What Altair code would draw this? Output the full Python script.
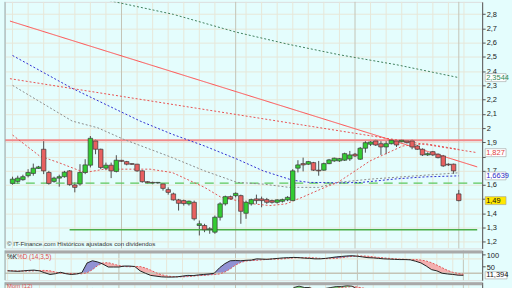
import altair as alt
import pandas as pd

# ---------------- data ----------------
opens = [1.611, 1.625, 1.637, 1.665, 1.681, 1.716, 1.851, 1.688, 1.625, 1.648,
         1.658, 1.699, 1.600, 1.607, 1.688, 1.739, 1.909, 1.851, 1.718, 1.739,
         1.695, 1.773, 1.764, 1.750, 1.746, 1.699, 1.623, 1.618, 1.614, 1.607,
         1.567, 1.537, 1.495, 1.490, 1.467, 1.478, 1.315, 1.315, 1.285, 1.268,
         1.373, 1.467, 1.518, 1.525, 1.525, 1.401, 1.467, 1.502, 1.502, 1.497,
         1.490, 1.478, 1.485, 1.495, 1.490, 1.718, 1.750, 1.746, 1.757, 1.704,
         1.704, 1.750, 1.769, 1.769, 1.774, 1.783, 1.816, 1.781, 1.858, 1.886,
         1.909, 1.890, 1.867, 1.890, 1.909, 1.904, 1.909, 1.909, 1.874, 1.851,
         1.811, 1.834, 1.816, 1.804, 1.746, 1.746, 1.537]
closes = [1.641, 1.648, 1.658, 1.688, 1.718, 1.727, 1.699, 1.611, 1.648, 1.658,
          1.690, 1.602, 1.583, 1.688, 1.741, 1.928, 1.851, 1.723, 1.739, 1.699,
          1.774, 1.766, 1.746, 1.745, 1.699, 1.623, 1.616, 1.614, 1.618, 1.576,
          1.548, 1.495, 1.471, 1.469, 1.486, 1.362, 1.327, 1.285, 1.292, 1.373,
          1.467, 1.518, 1.502, 1.541, 1.415, 1.478, 1.497, 1.490, 1.490, 1.478,
          1.478, 1.495, 1.497, 1.513, 1.699, 1.741, 1.741, 1.764, 1.704, 1.699,
          1.750, 1.776, 1.788, 1.785, 1.820, 1.811, 1.804, 1.858, 1.897, 1.902,
          1.881, 1.867, 1.890, 1.914, 1.881, 1.914, 1.897, 1.867, 1.851, 1.811,
          1.820, 1.811, 1.792, 1.734, 1.741, 1.699, 1.490]
highs = [1.658, 1.665, 1.672, 1.711, 1.750, 1.734, 1.921, 1.699, 1.658, 1.672,
         1.699, 1.704, 1.618, 1.746, 1.781, 1.944, 1.921, 1.855, 1.757, 1.757,
         1.809, 1.776, 1.769, 1.752, 1.748, 1.703, 1.626, 1.623, 1.621, 1.609,
         1.583, 1.546, 1.502, 1.497, 1.490, 1.490, 1.350, 1.327, 1.303, 1.385,
         1.478, 1.525, 1.525, 1.548, 1.532, 1.490, 1.504, 1.532, 1.518, 1.509,
         1.497, 1.500, 1.504, 1.521, 1.711, 1.774, 1.792, 1.769, 1.762, 1.769,
         1.757, 1.783, 1.792, 1.790, 1.827, 1.839, 1.825, 1.867, 1.909, 1.913,
         1.920, 1.909, 1.909, 1.920, 1.921, 1.920, 1.916, 1.921, 1.881, 1.857,
         1.829, 1.839, 1.822, 1.811, 1.752, 1.750, 1.565]
lows = [1.602, 1.607, 1.630, 1.653, 1.665, 1.713, 1.676, 1.602, 1.616, 1.588,
        1.651, 1.595, 1.548, 1.595, 1.676, 1.723, 1.816, 1.711, 1.704, 1.648,
        1.688, 1.762, 1.738, 1.741, 1.692, 1.616, 1.609, 1.605, 1.609, 1.560,
        1.532, 1.490, 1.420, 1.455, 1.455, 1.350, 1.245, 1.268, 1.257, 1.257,
        1.350, 1.455, 1.497, 1.513, 1.327, 1.362, 1.455, 1.467, 1.443, 1.467,
        1.469, 1.469, 1.476, 1.486, 1.490, 1.688, 1.695, 1.741, 1.699, 1.665,
        1.699, 1.746, 1.762, 1.762, 1.769, 1.769, 1.797, 1.776, 1.827, 1.874,
        1.874, 1.811, 1.816, 1.885, 1.867, 1.899, 1.892, 1.851, 1.846, 1.804,
        1.804, 1.804, 1.787, 1.727, 1.734, 1.678, 1.485]
idx = list(range(len(opens)))

# moving averages (index position, value)
ma_long_i = [0, 10, 20, 31, 43, 53, 63, 74, 86]
ma_long_v = [3.04, 2.96, 2.885, 2.799, 2.675, 2.59, 2.515, 2.445, 2.3544]
ma_blue_i = [0, 11.4, 24.6, 30.8, 37, 43.3, 48.3, 53.9, 57.1, 62.7, 67, 74, 79.6, 86]
ma_blue_v = [2.51, 2.281, 2.049, 1.956, 1.874, 1.781, 1.699, 1.634, 1.618, 1.615,
             1.617, 1.643, 1.657, 1.6639]
ma_grey_i = [0, 11.5, 16.4, 21.4, 26.5, 30.8, 37, 43.3, 48.3, 53.3, 59, 62.7, 69, 77.7, 85.8]
ma_grey_v = [2.30, 2.049, 2.002, 1.921, 1.851, 1.792, 1.699, 1.618, 1.606, 1.583,
             1.583, 1.618, 1.641, 1.664, 1.685]
ma_red_i = [0, 5.2, 8.9, 13.9, 17.7, 21.4, 26.5, 30.8, 37, 40.2, 46.4, 49.6, 52.7,
            55.8, 60.2, 62.7, 68.9, 75.2, 79.6, 86]
ma_red_v = [1.951, 1.804, 1.757, 1.687, 1.711, 1.711, 1.711, 1.687, 1.583, 1.513,
            1.467, 1.455, 1.467, 1.513, 1.583, 1.618, 1.769, 1.874, 1.89, 1.85]

# trend lines and levels
trend_i = [-0.5, 89.55]
trend_solid_v = [2.752, 1.727]
trend_dot_v = [2.347, 1.827]
resist_level = [1.915]
support_dash = [1.613]
support_solid = [1.285]
support_from = [11]
support_to = [89.55]

# right-axis value labels
lab_vals = [2.3544, 1.827, 1.6639, 1.49]
lab_text = ["2,3544", "1,827", "1,6639", "1,49"]

# stochastic %K / %D
stoch_k = [30, 29, 28, 30, 32, 33, 30, 22, 15, 18, 24, 18, 15, 17, 22, 63, 72, 67, 58, 46,
           46, 46, 50, 50, 48, 30, 20, 11, 8, 5, 4, 4, 5, 8, 11, 10, 13, 15, 17, 20,
           43, 60, 72, 73, 72, 74, 75, 80, 79, 78, 80, 82, 84, 85, 86, 85, 83, 82, 80, 80,
           82, 85, 88, 90, 92, 93, 91, 88, 85, 84, 82, 80, 79, 78, 77, 77, 76, 70, 63, 50,
           35, 30, 20, 17, 15, 12, 11.394]
stoch_d = [31, 30, 29, 29, 29, 30, 31, 32, 30, 25, 20, 19, 19, 18, 18, 22, 35, 52, 63, 64,
           58, 52, 48, 47, 48, 48, 42, 33, 22, 14, 9, 6, 5, 5, 6, 8, 10, 11, 13, 15,
           17, 25, 38, 54, 65, 71, 73, 74, 76, 78, 79, 79, 80, 82, 84, 85, 85, 85, 84, 82,
           81, 81, 82, 85, 88, 90, 92, 92, 91, 88, 86, 84, 82, 80, 79, 78, 77, 77, 75, 71,
           64, 54, 43, 32, 24, 19, 16]
stoch_levels = [80, 20]
stoch_ticks = [50, 100]
stoch_label = ["11,394"]
stoch_label_v = [11.394]

# momentum (12) and its signal
mom = [-0.05, -0.03, 0.0, 0.02, 0.05, 0.06, 0.0, -0.05, -0.02, 0.0,
       0.03, -0.05, -0.08, 0.0, 0.08, 0.26, 0.28, 0.12, 0.10, 0.08,
       0.22, 0.23, 0.22, 0.26, 0.24, 0.05, -0.02, -0.12, -0.20, -0.16,
       -0.19, -0.22, -0.27, -0.25, -0.25, -0.34, -0.30, -0.33, -0.32, -0.27,
       -0.15, -0.10, -0.10, -0.05, -0.10, -0.03, 0.03, 0.25, 0.26, 0.24,
       0.10, 0.13, 0.0, 0.0, 0.30, 0.33, 0.30, 0.30, 0.22, 0.22,
       0.28, 0.30, 0.32, 0.32, 0.34, 0.33, 0.26, 0.23, 0.23, 0.22,
       0.22, 0.22, 0.23, 0.22, 0.22, 0.21, 0.20, 0.15, 0.10, 0.0,
       0.0, -0.05, -0.08, -0.14, -0.13, -0.18, -0.37]
mom_sig = [-0.04, -0.04, -0.03, -0.01, 0.01, 0.03, 0.04, 0.02, -0.01, -0.02,
           -0.01, -0.01, -0.03, -0.04, -0.02, 0.05, 0.12, 0.17, 0.18, 0.15,
           0.13, 0.17, 0.20, 0.22, 0.23, 0.20, 0.12, 0.04, -0.06, -0.12,
           -0.16, -0.19, -0.22, -0.24, -0.25, -0.28, -0.29, -0.31, -0.32, -0.30,
           -0.25, -0.19, -0.14, -0.10, -0.09, -0.07, -0.04, 0.05, 0.15, 0.22,
           0.20, 0.16, 0.10, 0.06, 0.11, 0.20, 0.27, 0.29, 0.27, 0.25,
           0.25, 0.26, 0.28, 0.30, 0.31, 0.32, 0.31, 0.29, 0.27, 0.25,
           0.24, 0.23, 0.23, 0.23, 0.22, 0.22, 0.21, 0.19, 0.15, 0.10,
           0.05, 0.01, -0.03, -0.07, -0.10, -0.13, -0.20]

# grid positions and tick labels
grid_idx = [0, 3, 6, 9, 12, 15, 18, 21, 24, 27, 30, 33, 36, 39, 43, 45, 48, 51, 54,
            57, 60, 63, 66, 69, 72, 75, 78, 81, 84, 86, 87]
month_idx = [21, 43, 66, 86]
price_ticks = [1.2, 1.3, 1.4, 1.5, 1.6, 1.7, 1.8, 1.9, 2.0, 2.1, 2.2, 2.3, 2.4,
               2.5, 2.6, 2.7, 2.8]

copyright_txt = "© IT-Finance.com  Históricos ajustados con dividendos"

# ---------------- layout / styles ----------------
W, H1, H2, H3 = 480, 248, 30, 10
FONT = "Liberation Sans"
xs = alt.Scale(domain=[-0.5, 89.55], nice=False, zero=False)
ys = alt.Scale(domain=[1.154, 2.887], nice=False, zero=False)
ss = alt.Scale(domain=[-9.1, 115.3], nice=False, zero=False)
ms = alt.Scale(domain=[0.2, 0.414], nice=False, zero=False)

# tick labels that sit under the value boxes are left blank
price_axis = alt.Axis(orient="right", values=price_ticks,
                      labelExpr="(abs(datum.value - 1.5) < 0.001 || abs(datum.value - 1.8) < 0.001)"
                                " ? '' : replace(format(datum.value, '.2~f'), '.', ',')",
                      grid=True, gridColor="#E7E7D9", gridWidth=1,
                      tickSize=3, tickColor="#555", domainColor="#555",
                      labelFontSize=7.5, labelColor="#222", labelPadding=1,
                      labelFont=FONT, labelOverlap=False, labelFlush=False,
                      title=None)
stoch_axis = alt.Axis(orient="right", values=stoch_ticks, tickSize=3, tickColor="#555",
                      domainColor="#555", labelFontSize=7.5, labelColor="#222",
                      labelPadding=1, labelFont=FONT, grid=False, labelOffset=1,
                      labelOverlap=False, labelFlush=False, title=None)
mom_axis = alt.Axis(orient="right", labels=False, ticks=False, grid=False,
                    domainColor="#555", title=None)


def xq(f):
    return alt.X(f, type="quantitative", scale=xs, axis=None, title=None)


def yp(f):
    return alt.Y(f, type="quantitative", scale=ys, title=None, axis=price_axis)


def ysto(f):
    return alt.Y(f, type="quantitative", scale=ss, title=None, axis=stoch_axis)


def ymom(f):
    return alt.Y(f, type="quantitative", scale=ms, title=None, axis=mom_axis)


one = pd.DataFrame({"k": [0]})

gdf = pd.DataFrame({"g": grid_idx,
                    "kind": ["major" if g in month_idx else "minor" for g in grid_idx]})


def vgrid():
    return alt.Chart(gdf).mark_rule(strokeWidth=1).encode(
        x=xq("g"),
        stroke=alt.Stroke("kind:N", scale=alt.Scale(domain=["minor", "major"],
                                                    range=["#E7E7D9", "#C4C4B6"]),
                          legend=None))


def left_border(h):
    return alt.Chart(one).mark_rule(color="#98AEAE").encode(
        x=alt.value(0), y=alt.value(0), y2=alt.value(h))


def separator():
    return alt.Chart(one).mark_rect(color="#A9A9A9").encode(
        x=alt.value(0), x2=alt.value(W), y=alt.value(0), y2=alt.value(3))


# ---------------- main price panel ----------------
cdf = pd.DataFrame({"i": idx, "o": opens, "h": highs, "l": lows, "c": closes})
cdf["dir"] = ["up" if c >= o else "down" for o, c in zip(opens, closes)]


def ma_line(xi, vals, color, dash):
    d = pd.DataFrame({"i": xi, "v": vals})
    return alt.Chart(d).mark_line(clip=True, color=color, strokeWidth=1,
                                  strokeDash=dash).encode(x=xq("i"), y=yp("v"))


wicks = alt.Chart(cdf).mark_rule(color="#4E4E4E", strokeWidth=1).encode(
    x=xq("i"), y=yp("l"), y2="h:Q")
bodies = alt.Chart(cdf).mark_bar(size=4.5, stroke="#3A3A3A", strokeWidth=0.7,
                                 opacity=1).encode(
    x=xq("i"), y=yp("o"), y2="c:Q",
    fill=alt.Fill("dir:N", scale=alt.Scale(domain=["up", "down"],
                                           range=["#33CC33", "#E86060"]),
                  legend=None))

resist = alt.Chart(pd.DataFrame({"v": resist_level})).mark_rule(
    color="#F28A8A", strokeWidth=2).encode(y=yp("v"))
sup_dash = alt.Chart(pd.DataFrame({"v": support_dash})).mark_rule(
    color="#5CC85C", strokeWidth=1.3, strokeDash=[9, 6]).encode(y=yp("v"))
sup_solid = alt.Chart(pd.DataFrame({"a": support_from, "b": support_to,
                                    "v": support_solid})).mark_rule(
    color="#48AE48", strokeWidth=1.6).encode(x=xq("a"), x2="b:Q", y=yp("v"))

trend_solid = ma_line(trend_i, trend_solid_v, "#FF4C4C", [1, 0])
trend_dot = ma_line(trend_i, trend_dot_v, "#E85050", [2, 2])
ma_long = ma_line(ma_long_i, ma_long_v, "#3F7F5C", [2, 2])
ma_blue = ma_line(ma_blue_i, ma_blue_v, "#2E2ED2", [2, 2])
ma_grey = ma_line(ma_grey_i, ma_grey_v, "#8C8C8C", [2, 2])
ma_red = ma_line(ma_red_i, ma_red_v, "#E25555", [2, 2])

ldf = pd.DataFrame({"v": lab_vals, "txt": lab_text})
lab_box = alt.Chart(ldf).transform_calculate(
    lo="datum.v - 0.028", hi="datum.v + 0.028").mark_rect(
    stroke="#A0A0A0", strokeWidth=0.6).encode(
    x=alt.value(483), x2=alt.value(504), y=yp("lo"), y2="hi:Q",
    fill=alt.Fill("txt:N", scale=alt.Scale(domain=lab_text,
                                           range=["#FFFFFF", "#FFFFFF", "#FFFFFF", "#FFE800"]),
                  legend=None))
lab_txt = alt.Chart(ldf).mark_text(align="left", baseline="middle", fontSize=7.5,
                                   font=FONT).encode(
    x=alt.value(484), y=yp("v"), text="txt:N",
    fill=alt.Fill("txt:N", scale=alt.Scale(domain=lab_text,
                                           range=["#2E8B57", "#E04040", "#2B2BC8", "#111111"]),
                  legend=None))

copy_txt = alt.Chart(pd.DataFrame({"t": [copyright_txt]})).mark_text(
    align="left", baseline="middle", fontSize=6.2, color="#333", font=FONT).encode(
    x=alt.value(2), y=alt.value(243.5), text="t:N")

extender = alt.Chart(one).mark_rect(opacity=0).encode(
    x=alt.value(480), x2=alt.value(509), y=alt.value(0), y2=alt.value(2))

main = alt.layer(
    vgrid(), wicks, resist, sup_dash, sup_solid, ma_long, ma_blue, ma_grey, ma_red,
    trend_dot, trend_solid, bodies, lab_box, lab_txt, copy_txt, extender,
    left_border(H1)
).resolve_scale(fill="independent").properties(width=W, height=H1)

# ---------------- stochastic panel ----------------
sdf = pd.DataFrame({"i": idx, "K": stoch_k, "D": stoch_d})

s_blue = alt.Chart(sdf).transform_calculate(top="max(datum.K, datum.D)").mark_area(
    color="#8C8CD2", opacity=0.95).encode(x=xq("i"), y=ysto("top"), y2="D:Q")
s_pink = alt.Chart(sdf).transform_calculate(top="max(datum.K, datum.D)").mark_area(
    color="#F4B0B0").encode(x=xq("i"), y=ysto("top"), y2="K:Q")
s_lv = alt.Chart(pd.DataFrame({"v": stoch_levels, "n": ["hi", "lo"]})).mark_rule(
    strokeWidth=1.3).encode(
    y=ysto("v"),
    stroke=alt.Stroke("n:N", scale=alt.Scale(domain=["hi", "lo"], range=["#A4A4F0", "#4848DC"]),
                      legend=None))
s_k = alt.Chart(sdf).mark_line(color="#222", strokeWidth=1).encode(x=xq("i"), y=ysto("K"))
s_d = alt.Chart(sdf).mark_line(color="#E05A5A", strokeWidth=1, strokeDash=[2, 1.5]).encode(
    x=xq("i"), y=ysto("D"))
s_t1 = alt.Chart(pd.DataFrame({"t": ["%K"]})).mark_text(
    align="left", baseline="middle", fontSize=6.5, color="#111", font=FONT).encode(
    x=alt.value(2), y=alt.value(6.5), text="t:N")
s_t2 = alt.Chart(pd.DataFrame({"t": ["%D (14,3,5)"]})).mark_text(
    align="left", baseline="middle", fontSize=6.5, color="#E05050", font=FONT).encode(
    x=alt.value(12), y=alt.value(6.5), text="t:N")
sl = pd.DataFrame({"v": stoch_label_v, "txt": stoch_label})
s_box = alt.Chart(sl).transform_calculate(lo="datum.v - 15", hi="datum.v + 15").mark_rect(
    fill="#FFFFFF", stroke="#A0A0A0", strokeWidth=0.6).encode(
    x=alt.value(483), x2=alt.value(505), y=ysto("lo"), y2="hi:Q")
s_txt = alt.Chart(sl).mark_text(align="left", baseline="middle", fontSize=7.5,
                                color="#111", font=FONT).encode(
    x=alt.value(484), y=ysto("v"), text="txt:N")

stoch = alt.layer(
    vgrid(), s_blue, s_pink, s_lv, s_d, s_k, separator(), s_t1, s_t2, s_box, s_txt,
    left_border(H2)
).properties(width=W, height=H2)

# ---------------- momentum panel ----------------
mdf = pd.DataFrame({"i": idx, "M": mom, "S": mom_sig})
m_green = alt.Chart(mdf).transform_calculate(top="max(datum.M, datum.S)").mark_area(
    color="#7ED07E", clip=True).encode(x=xq("i"), y=ymom("top"), y2="S:Q")
m_pink = alt.Chart(mdf).transform_calculate(top="max(datum.M, datum.S)").mark_area(
    color="#F4B4B4", clip=True).encode(x=xq("i"), y=ymom("top"), y2="M:Q")
m_line = alt.Chart(mdf).mark_line(color="#333", strokeWidth=1, clip=True).encode(
    x=xq("i"), y=ymom("M"))
m_sig = alt.Chart(mdf).mark_line(color="#E05A5A", strokeWidth=1, strokeDash=[2, 1.5],
                                 clip=True).encode(x=xq("i"), y=ymom("S"))
m_t = alt.Chart(pd.DataFrame({"t": ["Mom (12)"]})).mark_text(
    align="left", baseline="middle", fontSize=6, color="#E05050", font=FONT).encode(
    x=alt.value(2), y=alt.value(4.2), text="t:N")

momp = alt.layer(
    vgrid(), m_green, m_pink, m_sig, m_line, separator(), m_t, left_border(H3)
).properties(width=W, height=H3)

chart = alt.vconcat(main, stoch, momp, spacing=0).properties(
    background="#E4FDFD",
    padding={"left": 3, "top": 0, "right": 0, "bottom": 0},
).configure_view(fill="#FDFDF3", stroke=None).configure(font=FONT)

chart.save("out.html", embed_options={"renderer": "svg", "actions": False})
